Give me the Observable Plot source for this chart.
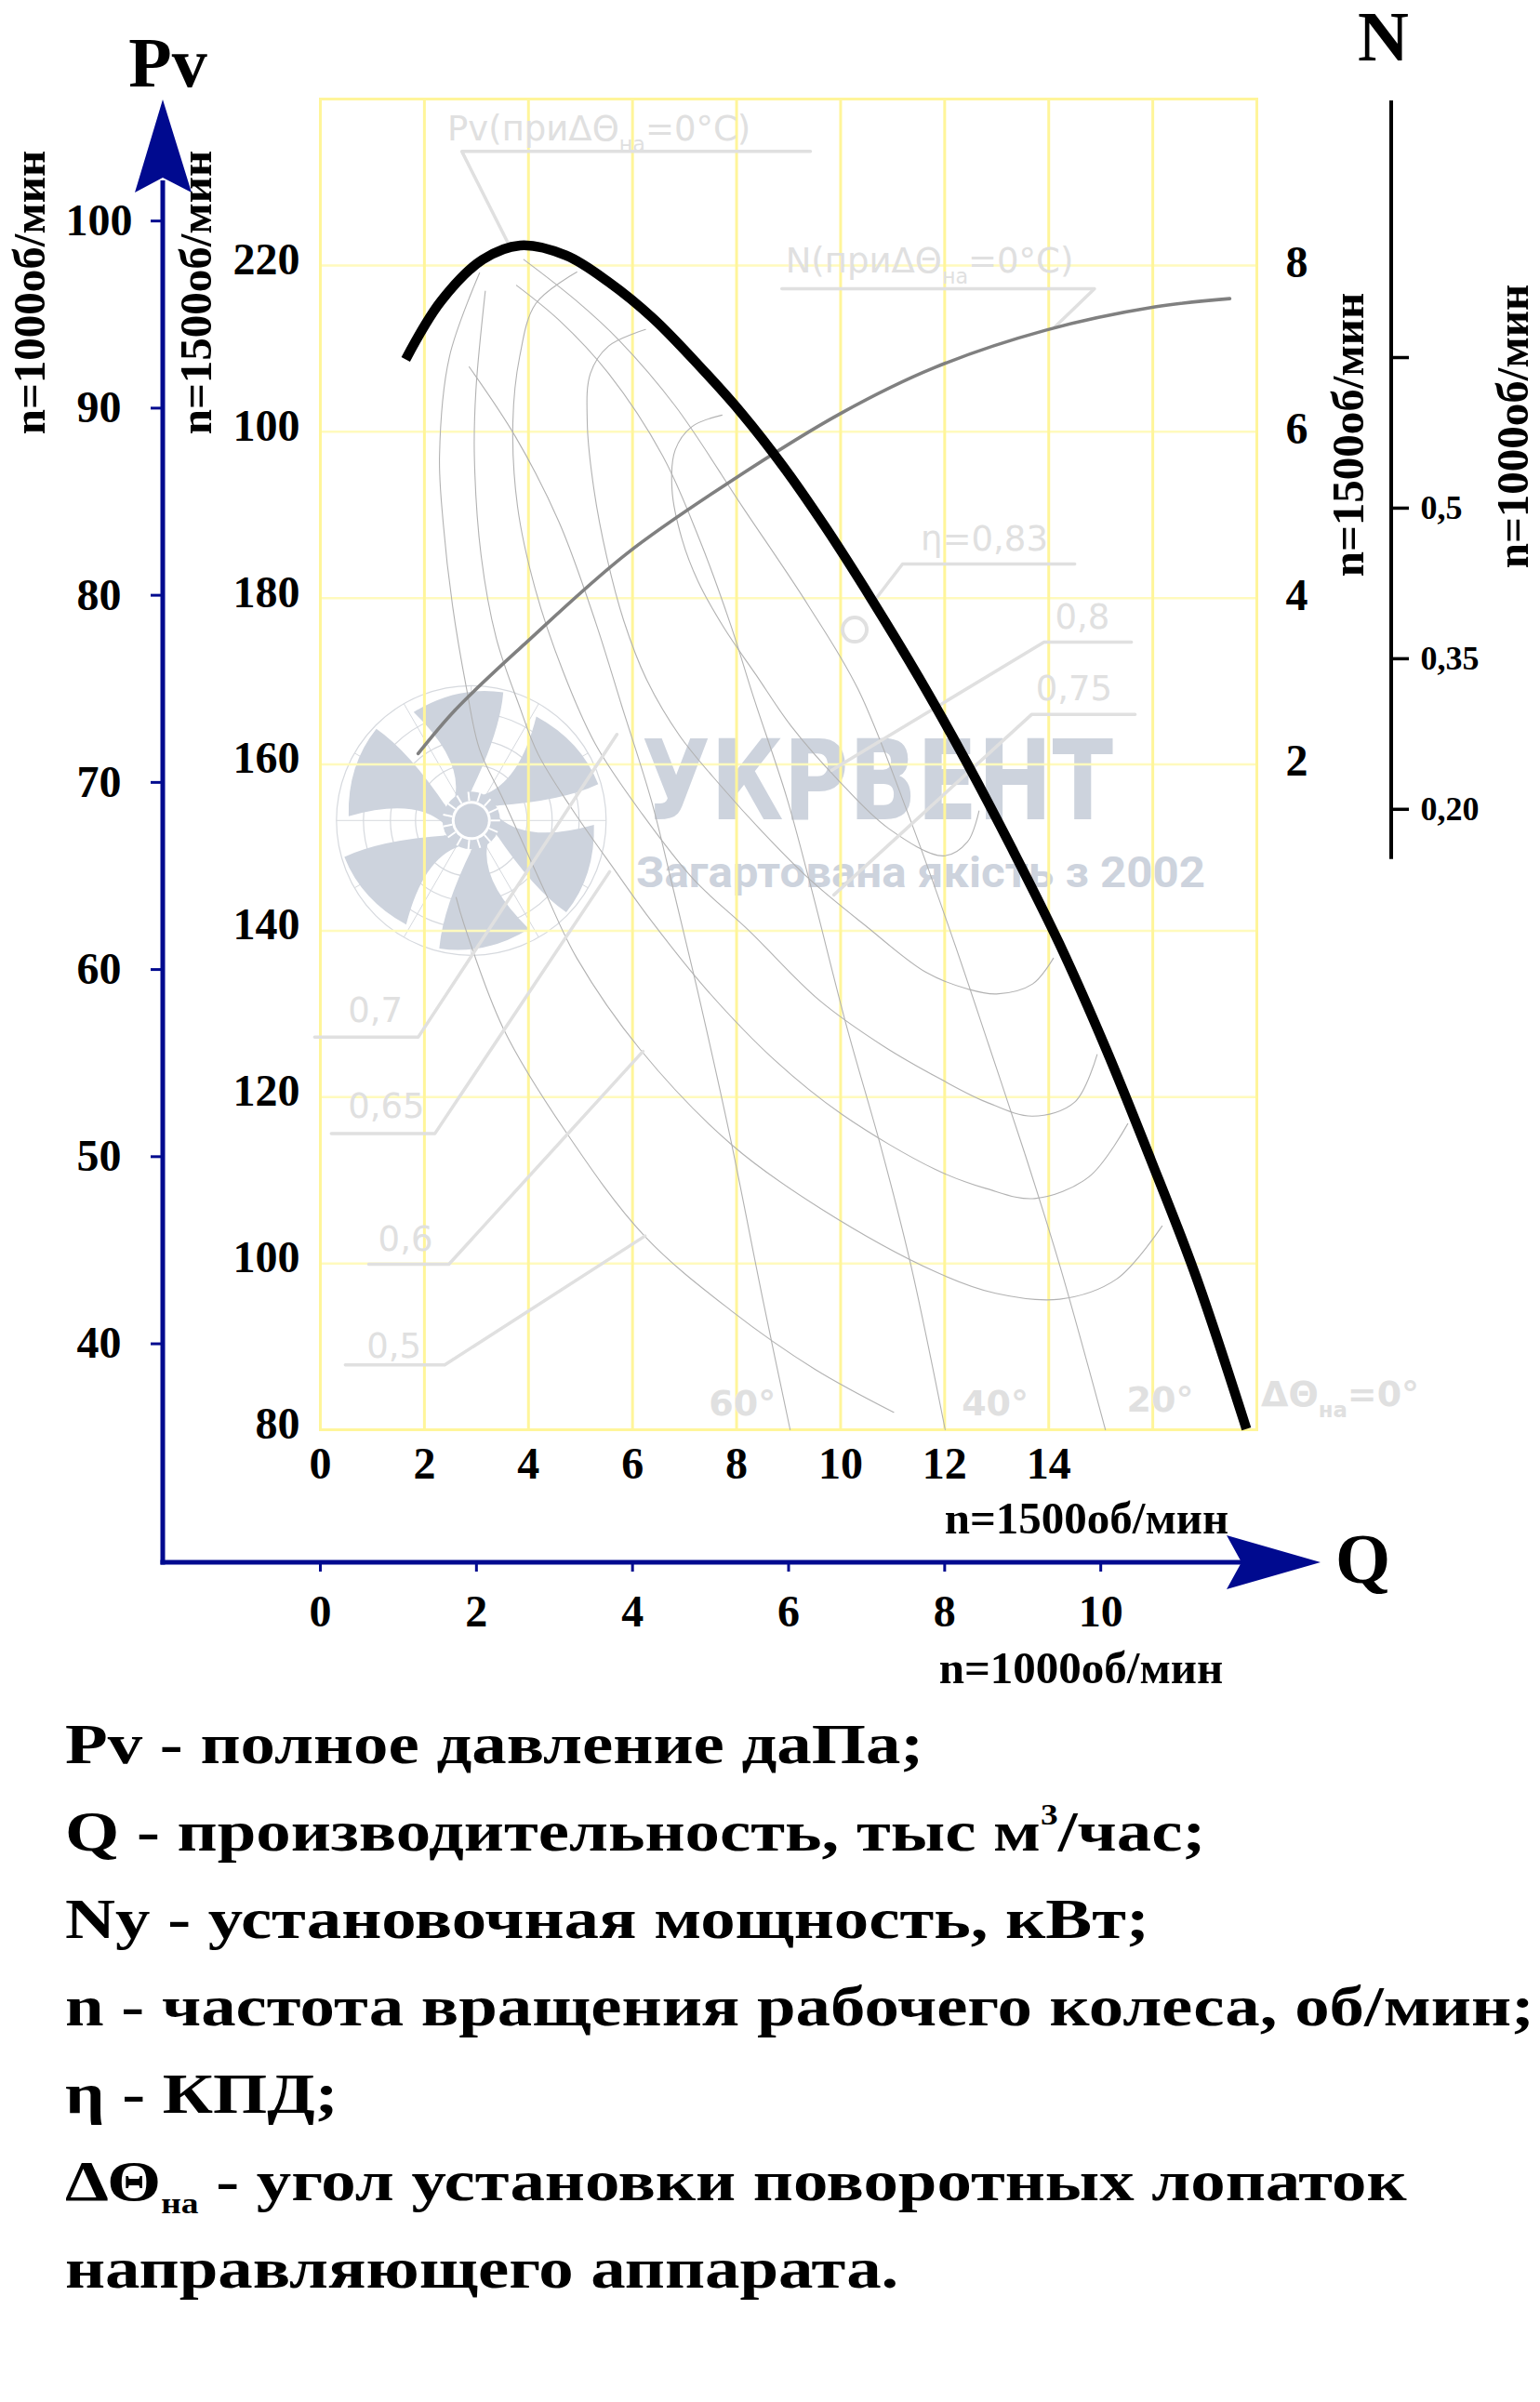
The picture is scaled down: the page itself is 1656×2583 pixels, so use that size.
<!DOCTYPE html>
<html>
<head>
<meta charset="utf-8">
<script src="https://cdn.jsdelivr.net/npm/d3@7"></script>
<script src="https://cdn.jsdelivr.net/npm/@observablehq/plot@0.6"></script>
<style>
  html, body { margin: 0; padding: 0; background: #fff; overflow: hidden; }
  #wrap { position: relative; width: 1656px; height: 2583px; background: #fff; }
  #chart { position: absolute; left: 0; top: 0; }
  #legend { position: absolute; left: 70px; top: 1828px; font-family: "Liberation Serif", "Times New Roman", serif;
            font-weight: bold; font-size: 62px; line-height: 94px; color: #000; transform-origin: 0 0; white-space: nowrap; }
  #legend sup { font-size: 0.5em; line-height: 0; vertical-align: 0.9em; }
  #legend sub { font-size: 0.5em; line-height: 0; vertical-align: -0.45em; }
</style>
</head>
<body>
<div id="wrap">
  <div id="chart"></div>
  <div id="legend">
    <div><span>Pv - полное давление даПа;</span></div>
    <div><span>Q - производительность, тыс м<sup>3</sup>/час;</span></div>
    <div><span>Ny - установочная мощность, кВт;</span></div>
    <div><span>n - частота вращения рабочего колеса, об/мин;</span></div>
    <div><span>η - КПД;</span></div>
    <div><span>ΔΘ<sub>на</sub> - угол установки поворотных лопаток</span></div>
    <div><span>направляющего аппарата.</span></div>
  </div>
</div>
<script>
// ---------------- DATA (n = 1500 об/мин unless noted) ----------------
// Q, тыс м³/час ; Pv, даПа (ΔΘна = 0°)
const pvQ = [1.64, 2.32, 3.12, 3.84, 4.72, 5.54, 6.4, 7.3, 8.1, 8.9, 9.7, 10.6, 11.5, 12.4, 13.3, 14.2, 15.1, 15.96, 16.82, 17.8];
const pvP = [208.7, 215.7, 220.7, 222.4, 221.2, 218.0, 213.6, 207.8, 202.2, 195.8, 188.6, 179.8, 170.5, 160.5, 149.8, 138.5, 125.8, 112.5, 98.6, 80.1];
// N, кВт (ΔΘна = 0°)
const nQ = [1.88, 2.6, 3.93, 5.9, 8.0, 10.0, 11.8, 13.94, 16.04, 17.48];
const nN = [2.13, 2.66, 3.45, 4.54, 5.45, 6.22, 6.77, 7.22, 7.50, 7.60];

// efficiency contours (Q, Pv)
const eta08Q  = [7.72, 7.14, 6.82, 6.76, 6.95, 7.26, 7.76, 8.37, 9.05, 9.94, 10.92, 11.98, 12.44, 12.66];
const eta08P  = [202.0, 200.6, 197.8, 193.0, 187.1, 182.0, 176.4, 170.8, 164.6, 158.2, 152.3, 149.0, 150.7, 154.4];
const eta075Q = [6.25, 5.54, 5.19, 5.13, 5.26, 5.51, 5.83, 6.27, 6.90, 7.70, 8.51, 9.40, 10.48, 11.64, 12.44, 13.00, 13.69, 14.09];
const eta075P = [212.3, 210.3, 207.0, 201.1, 193.0, 184.8, 177.3, 170.2, 163.5, 157.4, 151.8, 146.2, 140.6, 135.0, 133.0, 132.4, 133.6, 136.7];
const eta07Q  = [4.93, 4.14, 3.83, 3.70, 3.79, 4.13, 4.67, 5.29, 6.19, 7.17, 8.24, 9.58, 10.83, 11.91, 12.80, 13.69, 14.50, 14.93];
const eta07P  = [219.2, 215.4, 209.0, 201.1, 191.0, 181.1, 171.1, 162.4, 154.0, 146.2, 140.0, 131.7, 126.1, 122.2, 119.4, 117.7, 119.4, 125.1];
const eta065Q = [3.17, 2.99, 2.96, 3.09, 3.38, 3.82, 4.18, 4.84, 5.68, 6.36, 7.44, 8.74, 10.03, 11.82, 12.80, 13.73, 14.77, 15.52];
const eta065P = [216.9, 205.0, 197.1, 185.1, 175.2, 167.1, 161.3, 154.6, 147.1, 141.2, 132.8, 124.4, 117.9, 111.3, 109.0, 107.8, 110.4, 116.8];
const eta06Q  = [3.06, 2.48, 2.29, 2.36, 2.54, 2.81, 3.06, 3.52, 4.33, 4.93, 6.15, 7.90, 9.64, 11.82, 12.98, 14.21, 15.30, 16.18];
const eta06P  = [219.1, 209.0, 197.1, 189.1, 179.1, 169.1, 161.8, 155.7, 144.5, 136.7, 125.7, 114.3, 106.5, 99.0, 96.4, 95.7, 98.1, 104.5];
const eta05Q  = [2.61, 2.76, 3.52, 4.72, 6.23, 7.90, 9.50, 11.02];
const eta05P  = [144.0, 140.8, 128.2, 115.8, 103.3, 94.3, 87.3, 82.1];

// guide-vane angle curves (Q, Pv)
const a60Q = [2.86, 3.75, 4.59, 5.29, 5.79, 6.36, 6.76, 7.22, 7.87, 8.51, 9.03];
const a60P = [207.8, 199.4, 189.1, 177.1, 167.1, 155.7, 145.6, 133.6, 115.4, 95.5, 80];
const a40Q = [3.77, 4.59, 5.54, 6.58, 7.29, 7.88, 8.33, 8.96, 9.42, 10.12, 10.80, 11.35, 12.01];
const a40P = [217.6, 213.4, 207.0, 197.1, 187.0, 176.9, 168.0, 156.1, 145.5, 128.4, 113.4, 99.8, 80];
const a20Q = [3.91, 4.91, 5.74, 6.82, 8.10, 9.38, 10.33, 11.3, 12.16, 12.85, 13.53, 14.21, 15.09];
const a20P = [220.7, 215.8, 211.0, 203.1, 191.1, 179.1, 169.1, 154.0, 139.0, 126.2, 113.4, 99.8, 80];

// annotation leader lines (Q, Pv)
const leaders = [
  [[9.42, 233.7], [2.72, 233.7], [3.59, 222.9]],
  [[8.87, 217.2], [14.88, 217.2], [14.12, 212.6]],
  [[14.50, 184.1], [11.19, 184.1], [10.59, 179.2]],
  [[15.59, 174.7], [13.91, 174.7], [9.83, 159.3]],
  [[15.66, 166.0], [13.67, 166.0], [9.87, 144.3]],
  [[-0.11, 127.2], [1.88, 127.2], [5.70, 163.6]],
  [[0.21, 115.6], [2.20, 115.6], [5.56, 147.1]],
  [[0.93, 99.9], [2.47, 99.9], [6.20, 125.5]],
  [[0.48, 87.8], [2.39, 87.8], [6.24, 103.3]]
];
const etaMaxQ = [10.27], etaMaxP = [176.2];

const noteText = ["Pv(приΔΘ{на}=0°C)", "N(приΔΘ{на}=0°C)", "η=0,83", "0,8", "0,75", "0,7", "0,65", "0,6", "0,5"];
const noteQ = [2.44, 8.94, 11.54, 14.12, 13.75, 0.53, 0.53, 1.11, 0.89];
const noteP = [236.4, 220.5, 187.0, 177.7, 169.0, 130.3, 118.8, 102.8, 90.0];
const angText = ["60°", "40°", "20°"];
const angQ = [8.11, 12.97, 16.14];
const angP = [83.1, 83.1, 83.5];
const ang0Text = ["ΔΘ{на}=0°"], ang0Q = [18.08], ang0P = [84.2];

// axes
const gridQ = [0, 2, 4, 6, 8, 10, 12, 14, 16, 18];
const gridPv = [80, 100, 120, 140, 160, 180, 200, 220, 240];
const qTicks = [0, 2, 4, 6, 8, 10, 12, 14];
const pvTicks = [80, 100, 120, 140, 160, 180, 200, 220];
const pvTickLabels = ["80", "100", "120", "140", "160", "180", "100", "220"];
const pv1000Ticks = [40, 50, 60, 70, 80, 90, 100];
const q1000Ticks = [0, 2, 4, 6, 8, 10];
const nTicks = [2, 4, 6, 8];
const nSmallTicks = [0.65, 0.5, 0.35, 0.2];
const nSmallLabels = ["", "0,5", "0,35", "0,20"];
const fanQ = 2.91, fanP = 153.2;

// relations between the parallel axes
const toPvFromN = n => 140 + 10 * n;          // N (1500) axis aligned with the Pv grid
const pv1000ToPv = v => v * 2.25;             // (1500/1000)^2
const q1000ToQ = v => v * 1.5;                // 1500/1000
const nSmallToPv = w => 154.6 + (w - 0.2) * 120.7;

// ---------------- STYLE ----------------
const serif = "'Liberation Serif', 'Times New Roman', serif";
const sans = "'DejaVu Sans', sans-serif";
const BLUE = "#000a8f";
const LIGHT = "#e0e0e0";
const THIN = "#b2b2b2";
const tickFont = {fontFamily: serif, fontWeight: "bold", fontSize: 48};
const centered = {textAnchor: "middle", lineAnchor: "middle"};
const nFont = {fontFamily: serif, fontWeight: "bold", fontSize: 49, ...centered};
const titleFont = {fontFamily: serif, fontWeight: "bold", fontSize: 76, ...centered};

const zip = (a, b) => a.map((v, i) => [v, b[i]]);

function watermark(index, scales, values, dim) {
  const g = d3.create("svg:g");
  const cx = scales.x(fanQ), cy = scales.y(fanP);
  const col = "#cdd3dd";
  const rad = d => d * Math.PI / 180;
  const P = (r, a) => [+(cx + r * Math.cos(rad(a))).toFixed(1), +(cy + r * Math.sin(rad(a))).toFixed(1)];
  for (const r of [145, 116, 87, 60]) {
    g.append("circle").attr("cx", cx).attr("cy", cy).attr("r", r)
      .attr("fill", "none").attr("stroke", "#d6d9de").attr("stroke-width", 1.2);
  }
  for (let a = 0; a < 360; a += 30) {
    const [x1, y1] = P(32, a), [x2, y2] = P(145, a);
    g.append("line").attr("x1", x1).attr("y1", y1).attr("x2", x2).attr("y2", y2)
      .attr("stroke", "#d6d9de").attr("stroke-width", 1);
  }
  for (let k = 0; k < 6; k++) {
    const c = 24 + 60 * k;
    const r0 = P(30, c - 30), r1 = P(30, c + 4);
    const cl = P(100, c + 24), t1 = P(142, c + 20);
    const tm = P(146, c), t0 = P(132, c - 22), ct = P(66, c - 2);
    g.append("path")
      .attr("d", `M${r0}L${r1}Q${cl} ${t1}Q${tm} ${t0}Q${ct} ${r0}Z`)
      .attr("fill", col);
  }
  g.append("circle").attr("cx", cx).attr("cy", cy).attr("r", 31).attr("fill", col);
  for (let a = 0; a < 360; a += 24) {
    const [x1, y1] = P(21, a), [x2, y2] = P(31, a);
    g.append("line").attr("x1", x1).attr("y1", y1).attr("x2", x2).attr("y2", y2)
      .attr("stroke", "#fff").attr("stroke-width", 2);
  }
  g.append("circle").attr("cx", cx).attr("cy", cy).attr("r", 21).attr("fill", "#fff");
  g.append("circle").attr("cx", cx).attr("cy", cy).attr("r", 18).attr("fill", col);
  const L = dim.marginLeft, T = dim.marginTop;
  g.append("text").attr("x", L + 346).attr("y", T + 775).attr("text-anchor", "start")
    .attr("font-family", sans).attr("font-weight", "bold").attr("font-size", 120)
    .attr("textLength", 507).attr("lengthAdjust", "spacingAndGlyphs").attr("fill", col).text("УКРВЕНТ");
  g.append("text").attr("x", L + 340).attr("y", T + 848).attr("text-anchor", "start")
    .attr("font-family", "Roboto, 'Open Sans', sans-serif").attr("font-weight", "bold").attr("font-size", 46)
    .attr("textLength", 612).attr("lengthAdjust", "spacingAndGlyphs").attr("fill", col).text("Загартована якість з 2002");
  return g.node();
}

function axesDecor(index, scales, values, dim) {
  const L = dim.marginLeft, T = dim.marginTop;
  const R = dim.width - dim.marginRight, B = dim.height - dim.marginBottom;
  const g = d3.create("svg:g");
  const ax = L - 169, ay = B + 143;
  g.append("line").attr("x1", ax).attr("x2", ax).attr("y1", ay + 2.5).attr("y2", T + 88)
    .attr("stroke", BLUE).attr("stroke-width", 5);
  g.append("path").attr("d", `M${ax},${T + 1}L${ax + 31},${T + 101}L${ax},${T + 85}L${ax - 30},${T + 101}Z`)
    .attr("fill", BLUE);
  g.append("line").attr("x1", ax - 2.5).attr("x2", R - 14).attr("y1", ay).attr("y2", ay)
    .attr("stroke", BLUE).attr("stroke-width", 5);
  g.append("path").attr("d", `M${R + 69},${ay}L${R - 32},${ay - 29}L${R - 16},${ay}L${R - 32},${ay + 29}Z`)
    .attr("fill", BLUE);
  const nx = R + 145;
  g.append("line").attr("x1", nx).attr("x2", nx).attr("y1", T + 2).attr("y2", scales.y(nSmallToPv(0.15)))
    .attr("stroke", "#000").attr("stroke-width", 4);
  return g.node();
}

const fmt = (vals, labels) => { const m = new Map(vals.map((v, i) => [v, labels[i]])); return d => m.get(d); };

const thinSets = [[eta08Q, eta08P], [eta075Q, eta075P], [eta07Q, eta07P], [eta065Q, eta065P], [eta06Q, eta06P],
                  [eta05Q, eta05P], [a60Q, a60P], [a40Q, a40P], [a20Q, a20P]];

const notes = noteText.map((t, i) => ({t, q: noteQ[i], p: noteP[i]}));
const angs = angText.map((t, i) => ({t, q: angQ[i], p: angP[i]}));
const ang0 = ang0Text.map((t, i) => ({t, q: ang0Q[i], p: ang0P[i]}));

const svg = Plot.plot({
  width: 1656, height: 1830,
  marginLeft: 344, marginRight: 305, marginTop: 106, marginBottom: 293,
  x: {domain: [0, 18], label: null},
  y: {domain: [80, 240], label: null},
  style: {background: "white", overflow: "visible"},
  marks: [
    watermark,
    Plot.gridY(gridPv, {stroke: "#fffabd", strokeOpacity: 1, strokeWidth: 2.5}),
    Plot.gridX(gridQ, {stroke: "#fff59a", strokeOpacity: 1, strokeWidth: 3}),
    Plot.frame({stroke: "#fff59a", strokeWidth: 3}),
    ...thinSets.map(([q, p]) => Plot.line(zip(q, p), {curve: "catmull-rom", stroke: THIN, strokeWidth: 1.1})),
    ...leaders.map(l => Plot.line(l, {stroke: LIGHT, strokeWidth: 3.5})),
    Plot.dot(zip(etaMaxQ, etaMaxP), {r: 13, stroke: LIGHT, strokeWidth: 4, fill: "none"}),
    Plot.text(notes, {x: "q", y: "p", text: "t", textAnchor: "start", fill: LIGHT, fontFamily: sans, fontSize: 37}),
    Plot.text(angs, {x: "q", y: "p", text: "t", textAnchor: "middle", fill: LIGHT, fontFamily: sans, fontWeight: "bold", fontSize: 38}),
    Plot.text(ang0, {x: "q", y: "p", text: "t", textAnchor: "start", fill: LIGHT, fontFamily: sans, fontWeight: "bold", fontSize: 38}),
    Plot.line(nQ.map((q, i) => ({q, n: nN[i]})), {x: "q", y: d => toPvFromN(d.n), curve: "catmull-rom", stroke: "#808080", strokeWidth: 3.6}),
    Plot.line(zip(pvQ, pvP), {curve: "catmull-rom", stroke: "#000", strokeWidth: 10.5, strokeLinecap: "butt"}),
    // axes
    Plot.axisX(qTicks, {anchor: "bottom", tickSize: 0, tickPadding: 18, label: null, ...tickFont}),
    Plot.axisY(pvTicks, {anchor: "left", dy: -6, tickSize: 0, tickPadding: 22, tickFormat: fmt(pvTicks, pvTickLabels), label: null, ...tickFont}),
    Plot.axisY(nTicks.map(toPvFromN), {anchor: "right", dy: -3, tickSize: 0, tickPadding: 31, textAnchor: "start",
      tickFormat: fmt(nTicks.map(toPvFromN), nTicks.map(String)), label: null, ...tickFont}),
    Plot.axisY(pv1000Ticks.map(pv1000ToPv), {anchor: "left", dx: -170, dy: -3, tickSize: 12, tickPadding: 56, textAnchor: "middle",
      stroke: BLUE, strokeWidth: 3, fill: "#000", tickFormat: fmt(pv1000Ticks.map(pv1000ToPv), pv1000Ticks.map(String)), label: null, ...tickFont}),
    Plot.axisX(q1000Ticks.map(q1000ToQ), {anchor: "bottom", dy: 143, tickSize: 10, tickPadding: 24,
      stroke: BLUE, strokeWidth: 3, fill: "#000", tickFormat: fmt(q1000Ticks.map(q1000ToQ), q1000Ticks.map(String)), label: null, ...tickFont}),
    Plot.axisY(nSmallTicks.map(nSmallToPv), {anchor: "right", dx: 145, tickSize: 18, tickPadding: 13, textAnchor: "start",
      stroke: "#000", strokeWidth: 3.5, fill: "#000", tickFormat: fmt(nSmallTicks.map(nSmallToPv), nSmallLabels), label: null,
      fontFamily: serif, fontWeight: "bold", fontSize: 36}),
    axesDecor,
    // titles & speed labels
    Plot.text(["Pv"], {frameAnchor: "top-left", dx: -164, dy: -38, ...titleFont}),
    Plot.text(["N"], {frameAnchor: "top-right", dx: 136, dy: -66, ...titleFont}),
    Plot.text(["Q"], {frameAnchor: "bottom-right", dx: 114, dy: 140, ...titleFont}),
    Plot.text(["n=1000об/мин"], {frameAnchor: "top-left", dx: -312, dy: 208, rotate: -90, ...nFont}),
    Plot.text(["n=1500об/мин"], {frameAnchor: "top-left", dx: -133, dy: 208, rotate: -90, ...nFont}),
    Plot.text(["n=1500об/мин"], {frameAnchor: "top-right", dx: 99, dy: 361, rotate: -90, ...nFont}),
    Plot.text(["n=1000об/мин"], {frameAnchor: "top-right", dx: 276, dy: 352, rotate: -90, ...nFont}),
    Plot.text(["n=1500об/мин"], {frameAnchor: "bottom-right", dx: -183, dy: 96, ...nFont}),
    Plot.text(["n=1000об/мин"], {frameAnchor: "bottom-right", dx: -189, dy: 257, ...nFont})
  ]
});

// subscripts "на"
d3.select(svg).selectAll("text").each(function () {
  const t = this.textContent;
  const m = t.match(/^(.*)\{(.*)\}(.*)$/);
  if (!m) return;
  const el = d3.select(this);
  el.text(null);
  el.append("tspan").text(m[1]);
  el.append("tspan").attr("font-size", "0.6em").attr("dy", 12).text(m[2]);
  el.append("tspan").attr("dy", -12).text(m[3]);
});

document.getElementById("chart").appendChild(svg);

function fitLegend() {
  const lg = document.getElementById("legend");
  const spans = lg.querySelectorAll("span");
  lg.style.transform = "none";
  const w = spans[3].getBoundingClientRect().width;
  if (w > 0) lg.style.transform = `scaleX(${(1580 / w).toFixed(4)})`;
}
fitLegend();
if (document.fonts && document.fonts.ready) document.fonts.ready.then(fitLegend);
</script>
</body>
</html>
